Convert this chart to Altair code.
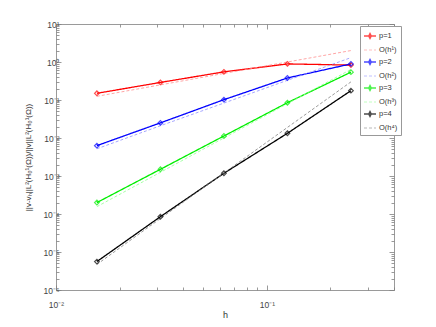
import altair as alt
import pandas as pd

# ---- data ----
h_values = [1/64, 1/32, 1/16, 1/8, 1/4]
err_p1 = [0.15, 0.29, 0.55, 0.89, 0.83]
err_p2 = [0.0063, 0.025, 0.102, 0.38, 0.89]
err_p3 = [2.0e-4, 1.5e-3, 0.0113, 0.085, 0.54]
err_p4 = [5.6e-6, 8.5e-5, 1.18e-3, 0.0133, 0.176]
ref_h1 = [0.125, 0.25, 0.5, 1.0, 2.0]
ref_h2 = [0.0052, 0.021, 0.083, 0.33, 1.3]
ref_h3 = [1.56e-4, 1.25e-3, 0.01, 0.08, 0.64]
ref_h4 = [4.7e-6, 7.6e-5, 1.2e-3, 0.019, 0.30]

series_names = ["p=1", "O(h¹)", "p=2", "O(h²)", "p=3", "O(h³)", "p=4", "O(h⁴)"]
series_values = [err_p1, ref_h1, err_p2, ref_h2, err_p3, ref_h3, err_p4, ref_h4]
series_colors = ["#ff0000", "#ff8f8f", "#0000ff", "#8f8fff",
                 "#00ee00", "#8fff8f", "#000000", "#808080"]
series_dash = [[1, 0], [3, 2]] * 4
series_width = [1.3, 0.8] * 4

x_ticks = [k * 0.01 for k in range(1, 10)] + [0.1, 0.2, 0.3, 0.4]
y_ticks = [k * 10.0 ** d for d in range(-6, 1) for k in range(1, 10)] + [10.0]

rows = []
for name, vals in zip(series_names, series_values):
    for hv, v in zip(h_values, vals):
        rows.append({"series": name, "h": hv, "err": v, "kind": "data" if name.startswith("p") else "ref"})
df = pd.DataFrame(rows)

FONT = "Liberation Sans"
AX = "#808080"
LE = "round(log(datum.value)/LN10)"
MAJOR = f"abs(log(datum.value)/LN10 - {LE}) < 0.0001"
label_expr = (f"{MAJOR} ? '10' + ({LE} < 0 ? '⁻' : '') + "
              f"['⁰','¹','²','³','⁴','⁵','⁶','⁷','⁸','⁹'][abs({LE})] : ''")
tick_cond = {"condition": {"test": MAJOR, "value": -5}, "value": -3}

common_axis = dict(grid=False, domainColor=AX, tickColor=AX, tickWidth=0.8,
                   domainWidth=0.8, labelFont=FONT, labelFontSize=8.5,
                   labelColor="#444444", titleFont=FONT, titleColor="#333333",
                   titleFontWeight="normal", labelOverlap=False, labelFlush=False,
                   tickSize=tick_cond)

x_scale = alt.Scale(type="log", domain=[0.01, 0.4], nice=False)
y_scale = alt.Scale(type="log", domain=[1e-6, 10], nice=False)

sym_line = "M-1,0L1,0"
sym_marker = "M-1,0L1,0M0,-0.42L0.22,0L0,0.42L-0.22,0Z"

legend = alt.Legend(
    title=None, orient="none", legendX=304, legendY=2, direction="vertical",
    fillColor="white", strokeColor="#999999", padding=3,
    symbolType=alt.ExprRef(f"indexof(datum.value,'p')==0 ? '{sym_marker}' : '{sym_line}'"),
    symbolSize=144, labelFont=FONT, labelFontSize=7.5,
    labelColor="#333333", labelOffset=2, rowPadding=1.5,
)

lines = alt.Chart(df).mark_line(clip=True).encode(
    x=alt.X("h:Q", scale=x_scale,
            axis=alt.Axis(values=x_ticks, labelExpr=label_expr, title="h",
                          titleFontSize=9, labelPadding=15, titlePadding=0,
                          **common_axis)),
    y=alt.Y("err:Q", scale=y_scale,
            axis=alt.Axis(values=y_ticks, labelExpr=label_expr,
                          title="||v-vₕ||L²(H₀¹(Ω))/||v||L²(H₀¹(Ω))",
                          titleFontSize=8, labelPadding=2, titlePadding=10,
                          **common_axis)),
    color=alt.Color("series:N", scale=alt.Scale(domain=series_names, range=series_colors),
                    legend=legend),
    strokeDash=alt.StrokeDash("series:N", scale=alt.Scale(type="ordinal", domain=series_names,
                                                          range=series_dash)),
    strokeWidth=alt.StrokeWidth("series:N", scale=alt.Scale(type="ordinal", domain=series_names,
                                                            range=series_width)),
    order=alt.Order("h:Q"),
)

points = alt.Chart(df).transform_filter("datum.kind == 'data'").mark_point(
    shape="diamond", filled=False, size=22, strokeWidth=1.2
).encode(
    x=alt.X("h:Q", scale=x_scale,
            axis=alt.Axis(orient="top", values=x_ticks, labels=False, title=None, **common_axis)),
    y=alt.Y("err:Q", scale=y_scale,
            axis=alt.Axis(orient="right", values=y_ticks, labels=False, title=None, **common_axis)),
    color=alt.Color("series:N", scale=alt.Scale(domain=series_names, range=series_colors)),
)

chart = alt.layer(lines, points).resolve_axis(x="independent", y="independent").properties(
    width=338, height=266,
    autosize=alt.AutoSizeParams(type="none"),
    padding={"left": 48, "top": 16, "right": 34, "bottom": 29},
    background="white",
).configure_view(stroke=None)

chart.save("out.html", embed_options={"renderer": "svg", "actions": False})
